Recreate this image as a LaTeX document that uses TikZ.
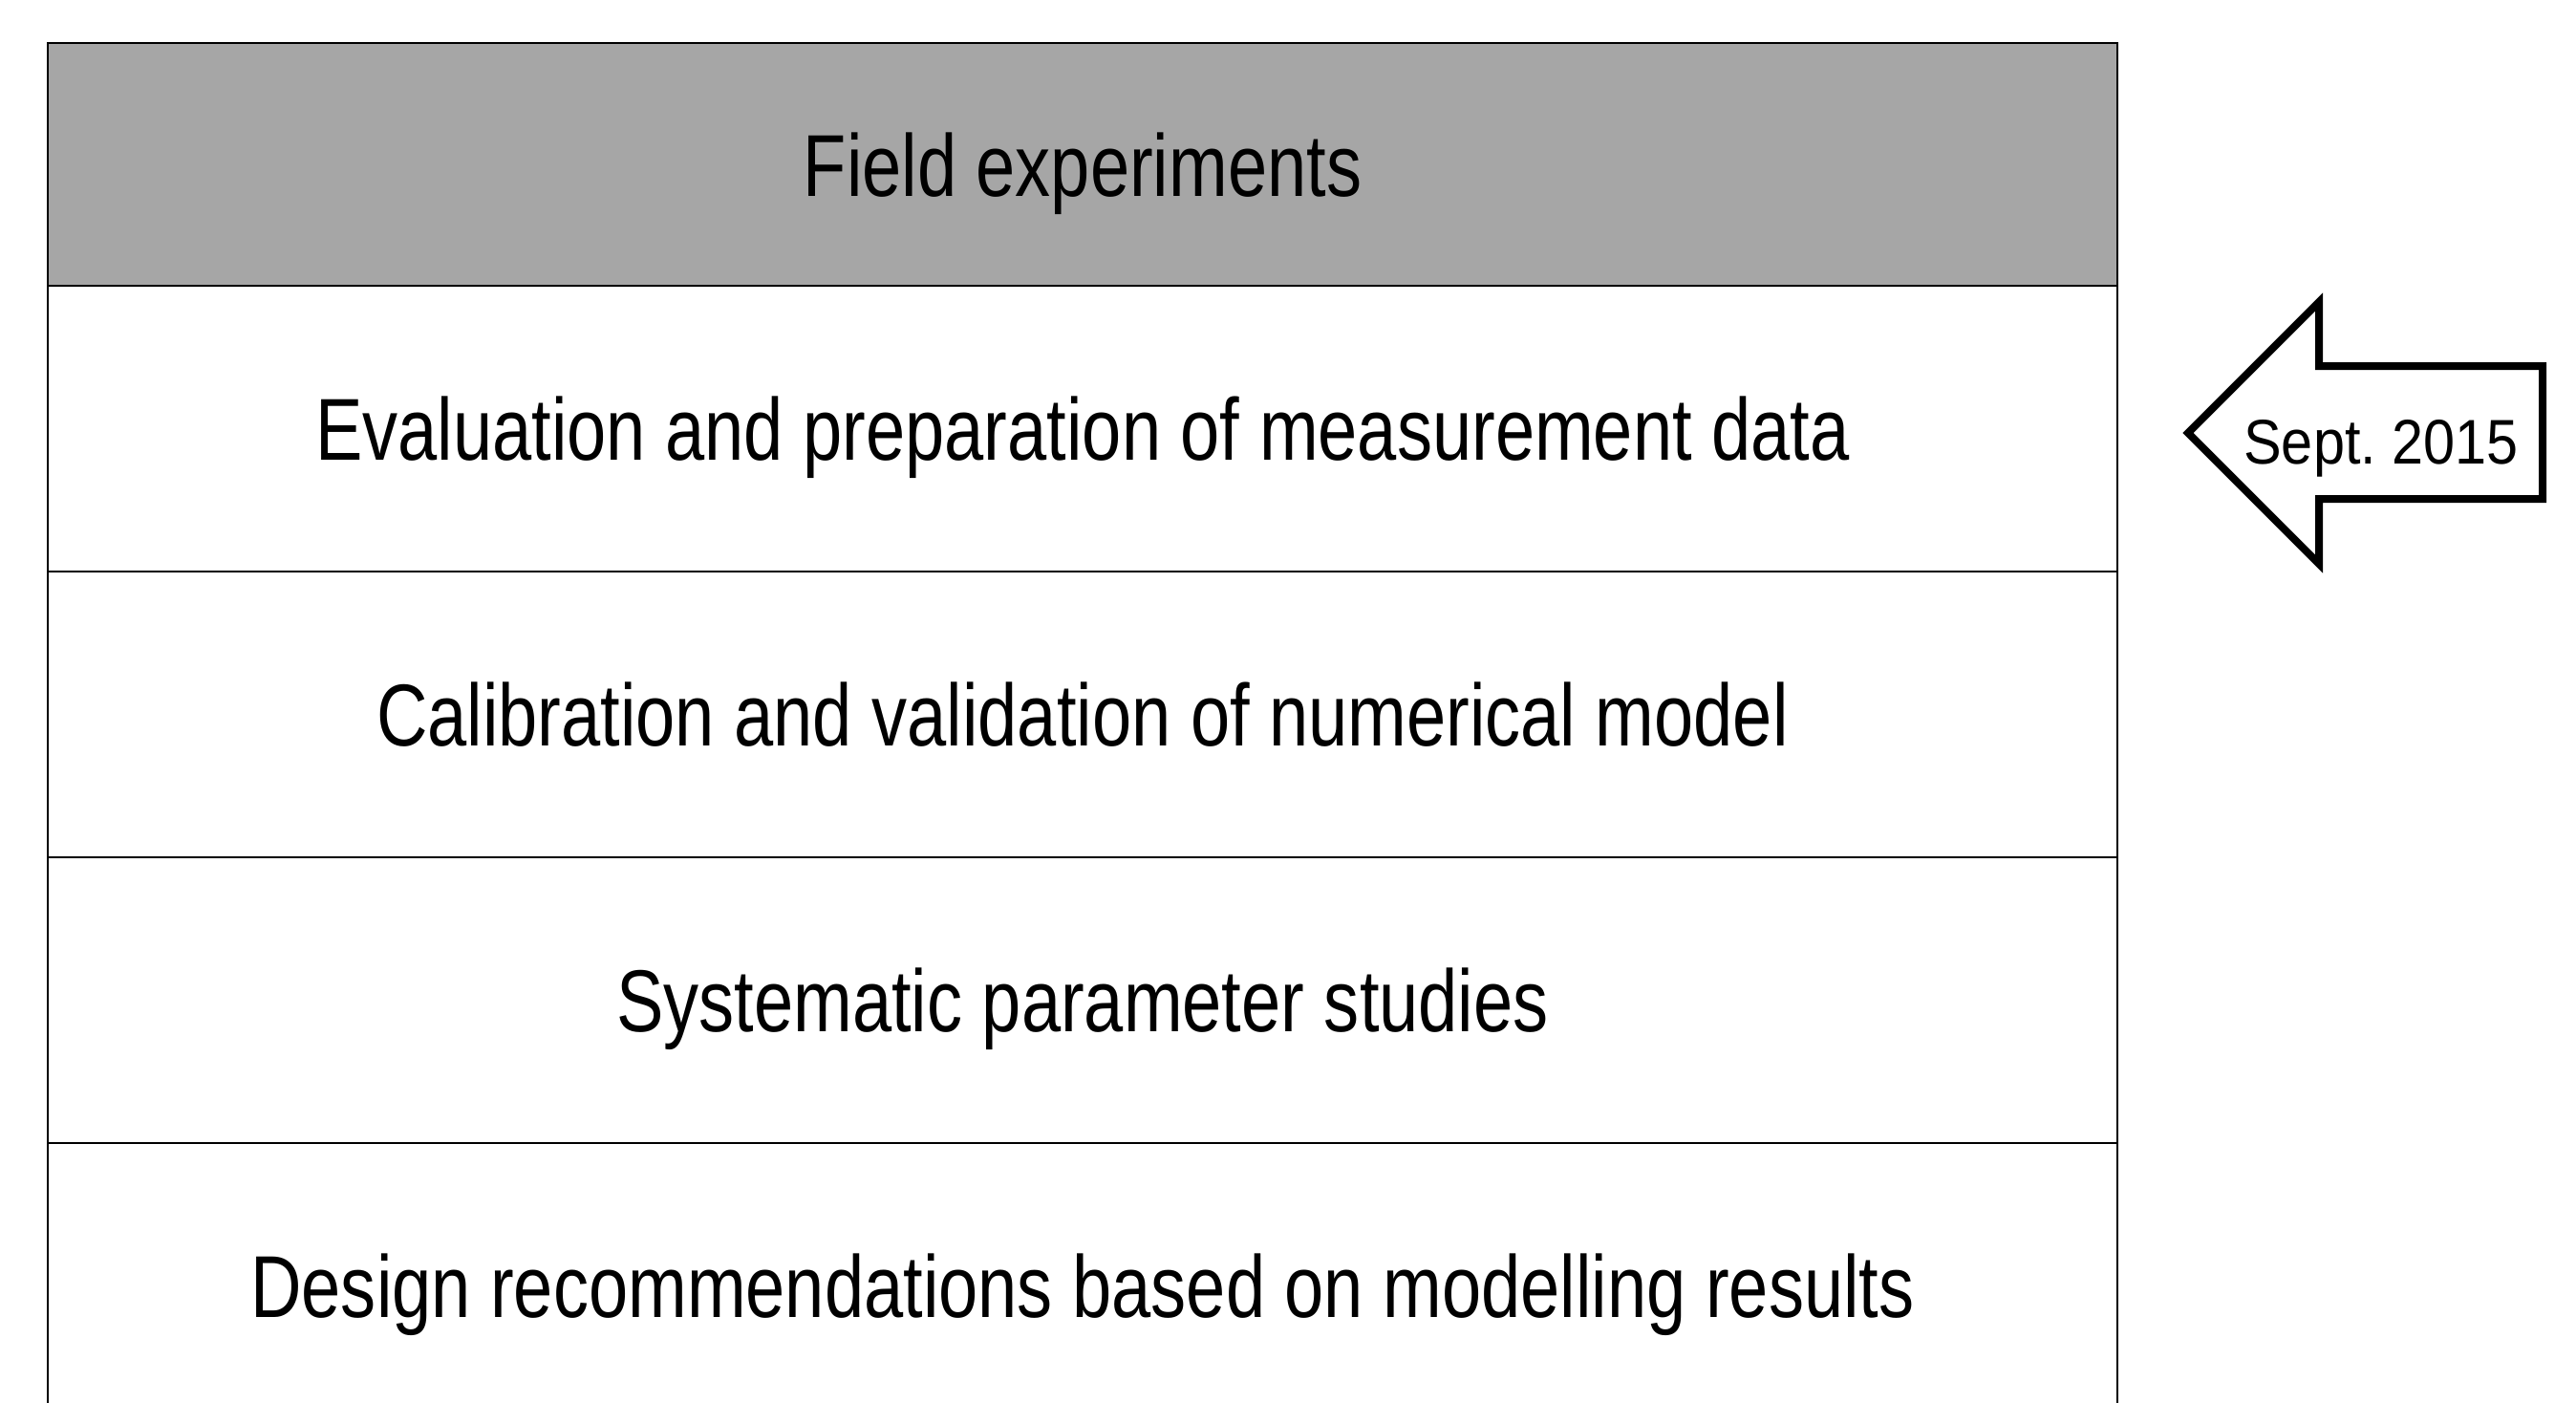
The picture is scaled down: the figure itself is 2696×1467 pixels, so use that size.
\documentclass[tikz,border=0pt]{standalone}
\usepackage{fontspec}
\setmainfont{Liberation Sans}[FakeStretch=0.805]
\newfontfamily\datefont{Liberation Sans}[FakeStretch=0.9]
\usetikzlibrary{positioning}

\definecolor{phasegrey}{HTML}{A6A6A6}

\tikzset{
    stage/.style={draw, line width=1.3pt, inner sep=0pt, outer sep=0pt,
        minimum width=1083pt, minimum height=149.5pt,
        text height=33pt, text depth=0pt,
        font=\fontsize{46}{50}\selectfont},
    firststage/.style={stage, fill=phasegrey, minimum height=127pt},
    nowarrow/.style={draw, line width=4pt, fill=white, line join=miter}
}

\begin{document}
\begin{tikzpicture}[x=0.5pt, y=-0.5pt]
    \useasboundingbox (0,0) rectangle (2696,1467);
    \clip (0,0) rectangle (2696,1467);

    % work packages
    \node[firststage, anchor=north west] (field) at (50,45) {Field experiments};
    \node[stage, below=0pt of field] (evaluation) {Evaluation and preparation of measurement data};
    \node[stage, below=0pt of evaluation] (calibration) {Calibration and validation of numerical model};
    \node[stage, below=0pt of calibration] (studies) {Systematic parameter studies};
    \node[stage, below=0pt of studies] (design) {Design recommendations based on modelling results};

    % current state
    \draw[nowarrow] (2290,453) -- (2427,316) -- (2427,383) -- (2661,383)
        -- (2661,522) -- (2427,522) -- (2427,590) -- cycle;
    \node[anchor=base, inner sep=0pt, font=\datefont\fontsize{33}{36}\selectfont] (date) at (2492,485) {Sept.\ 2015};
\end{tikzpicture}
\end{document}
